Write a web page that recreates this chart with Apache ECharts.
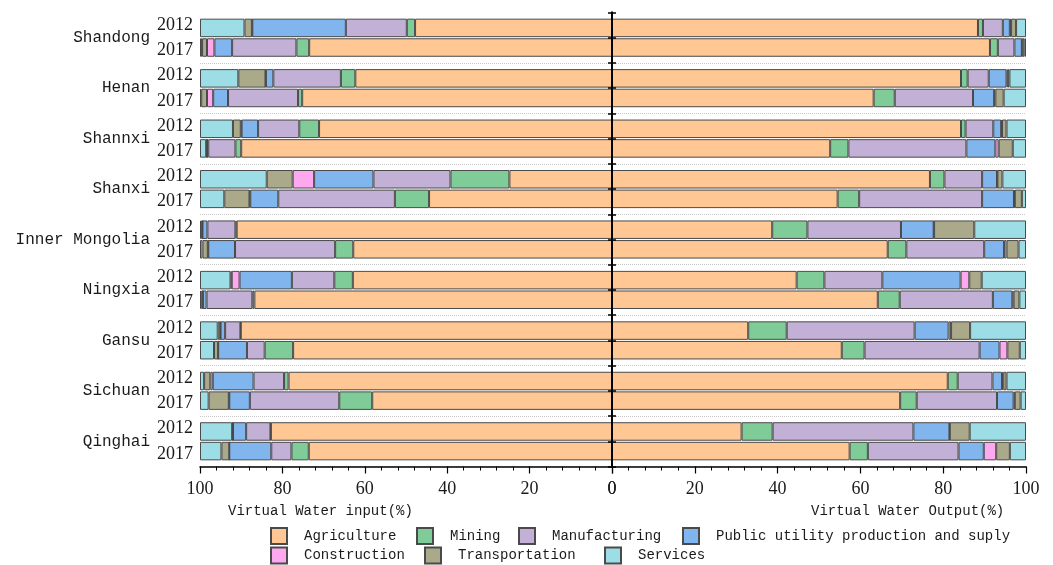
<!DOCTYPE html>
<html>
<head>
<meta charset="utf-8">
<script src="https://cdn.jsdelivr.net/npm/echarts@6/dist/echarts.min.js"></script>
<style>
  html, body { margin: 0; padding: 0; background: #ffffff; }
  #chart { width: 1053px; height: 565px; }
</style>
</head>
<body>
<div id="chart"></div>
<script>
// Provinces, top to bottom
const regions = ['Shandong', 'Henan', 'Shannxi', 'Shanxi', 'Inner Mongolia', 'Ningxia', 'Gansu', 'Sichuan', 'Qinghai'];
const years = ['2012', '2017'];
const sectors = ['Agriculture', 'Mining', 'Manufacturing', 'Public utility production and suply',
  'Construction', 'Transportation', 'Services'];
const sectorColors = ['#fec794', '#80cc98', '#c2b0d6', '#80b5ee', '#fea8f0', '#aaaa8a', '#9cdde6'];
const inputAxisName = 'Virtual Water input(%)';
const outputAxisName = 'Virtual Water Output(%)';

// Sector shares (%) of virtual water input, one row per province, columns in sector order
const input2012 = [
  [47.8, 2.0, 14.8, 22.7, 0.1, 1.8, 10.8],
  [62.3, 3.5, 16.4, 1.8, 0.1, 6.6, 9.3],
  [71.1, 4.8, 10.0, 4.0, 0.2, 1.9, 8.0],
  [24.9, 14.3, 18.7, 14.4, 5.2, 6.3, 16.2],
  [91.1, 0.3, 6.8, 1.2, 0.0, 0.3, 0.3],
  [62.9, 4.5, 10.3, 12.7, 1.9, 0.3, 7.4],
  [90.1, 0.1, 3.7, 1.1, 0.1, 0.6, 4.3],
  [78.5, 1.1, 7.4, 9.9, 0.6, 1.5, 1.0],
  [82.8, 0.1, 5.9, 3.2, 0.0, 0.2, 7.8]
];
const input2017 = [
  [73.5, 3.1, 15.6, 4.3, 1.8, 1.2, 0.5],
  [75.2, 1.0, 17.0, 3.6, 1.5, 1.4, 0.3],
  [90.0, 1.4, 6.6, 0.3, 0.0, 0.2, 1.5],
  [44.4, 8.3, 28.3, 6.8, 0.2, 6.1, 5.9],
  [62.8, 4.4, 24.3, 6.5, 0.1, 1.3, 0.6],
  [86.8, 0.5, 11.1, 0.9, 0.0, 0.4, 0.3],
  [77.4, 6.9, 4.3, 7.0, 0.0, 1.0, 3.4],
  [58.2, 8.0, 21.7, 5.0, 0.1, 4.9, 2.1],
  [73.6, 4.2, 4.9, 10.2, 0.0, 1.9, 5.2]
];
// Sector shares (%) of virtual water output
const output2012 = [
  [88.4, 1.2, 4.8, 1.7, 0.3, 1.2, 2.4],
  [84.3, 1.6, 5.1, 4.3, 0.3, 0.4, 4.0],
  [84.3, 1.1, 6.7, 1.9, 0.2, 1.1, 4.7],
  [76.8, 3.5, 9.1, 3.6, 0.1, 1.2, 5.7],
  [38.7, 8.5, 22.6, 7.9, 0.1, 9.7, 12.5],
  [44.6, 6.7, 14.0, 18.9, 2.1, 3.0, 10.7],
  [32.9, 9.3, 30.9, 8.2, 0.6, 4.6, 13.5],
  [81.1, 2.4, 8.4, 2.3, 0.3, 0.8, 4.7],
  [31.3, 7.5, 34.0, 8.7, 0.1, 4.8, 13.6]
];
const output2017 = [
  [91.3, 1.9, 4.0, 1.8, 0.1, 0.5, 0.4],
  [63.2, 5.1, 18.9, 5.1, 0.3, 2.0, 5.4],
  [52.7, 4.4, 28.5, 7.0, 0.8, 3.4, 3.2],
  [54.5, 5.2, 29.7, 7.7, 0.2, 1.7, 1.0],
  [66.6, 4.5, 18.8, 4.8, 0.6, 2.9, 1.8],
  [64.2, 5.3, 22.5, 4.7, 0.3, 1.4, 1.6],
  [55.5, 5.5, 27.8, 4.8, 1.9, 3.0, 1.5],
  [69.6, 4.0, 19.4, 4.0, 0.3, 1.4, 1.3],
  [57.4, 4.4, 21.9, 6.1, 3.0, 3.3, 3.9]
];

const MONO = '"Liberation Mono", "DejaVu Sans Mono", monospace';
const SERIF = '"Liberation Serif", "DejaVu Serif", serif';
const INK = '#1a1a1a';

// one label slot per bar row (2012 / 2017 for each province)
const yearRows = regions.flatMap(() => years);

function buildSeries(matrix, year, side) {
  const left = side === 'in';
  return sectors.map((name, s) => ({
    type: 'bar',
    name: name,
    stack: side + year,
    xAxisIndex: left ? 0 : 1,
    yAxisIndex: left ? 0 : 3,
    barWidth: 18.5,
    barGap: '6%',
    silent: true,
    itemStyle: { color: sectorColors[s], borderColor: '#4a4a4a', borderWidth: 1 },
    data: matrix.map(row => row[s])
  }));
}

const valueAxis = (gridIndex, inverse) => ({
  type: 'value', gridIndex, min: 0, max: 100, interval: 20, inverse,
  axisLine: { show: true, lineStyle: { color: '#000', width: 1.5 } },
  axisTick: { show: true, length: 7, lineStyle: { color: '#000', width: 1.2 } },
  minorTick: { show: true, splitNumber: 5, length: 4, lineStyle: { color: '#000', width: 1 } },
  splitLine: { show: false },
  axisLabel: { fontFamily: SERIF, fontSize: 18, color: INK, margin: 14 }
});

// dotted separators between provinces (the outer frame edges are skipped)
const regionSplit = {
  show: true,
  interval: (index) => index > 0,
  lineStyle: { type: 'dotted', color: '#c9c9c9', width: 1 }
};

const legendSlots = [
  { name: 'Agriculture', left: 270, top: 527 },
  { name: 'Mining', left: 416, top: 527 },
  { name: 'Manufacturing', left: 518, top: 527 },
  { name: 'Public utility production and suply', left: 682, top: 527 },
  { name: 'Construction', left: 270, top: 546.5 },
  { name: 'Transportation', left: 424, top: 546.5 },
  { name: 'Services', left: 604, top: 546.5 }
];

const spineAxis = (gridIndex, position) => ({
  type: 'category', gridIndex, data: yearRows, inverse: true, position, z: 10,
  axisLine: { show: true, lineStyle: { color: '#000', width: 2 } },
  axisTick: { show: true, interval: 0, length: 4, lineStyle: { color: '#000', width: 1.5 } },
  axisLabel: { show: false }
});

const option = {
  animation: false,
  backgroundColor: '#ffffff',
  title: [
    { text: inputAxisName, left: 228, top: 504, padding: 0,
      textStyle: { fontFamily: MONO, fontSize: 14, fontWeight: 'normal', color: INK } },
    { text: outputAxisName, left: 811, top: 504, padding: 0,
      textStyle: { fontFamily: MONO, fontSize: 14, fontWeight: 'normal', color: INK } }
  ],
  legend: legendSlots.map(slot => ({
    data: [slot.name], left: slot.left, top: slot.top, padding: 0,
    itemWidth: 16, itemHeight: 16, icon: 'rect', selectedMode: false,
    textStyle: { fontFamily: MONO, fontSize: 14, color: INK, padding: [0, 0, 0, 12] }
  })),
  grid: [
    { left: 200, right: 441, top: 12.5, bottom: 98.5 },
    { left: 612, right: 27, top: 12.5, bottom: 98.5 }
  ],
  xAxis: [valueAxis(0, true), valueAxis(1, false)],
  yAxis: [
    // province names
    { type: 'category', gridIndex: 0, data: regions, inverse: true, position: 'left',
      axisLine: { show: false }, axisTick: { show: false },
      axisLabel: { fontFamily: MONO, fontSize: 16, color: INK, margin: 50 },
      splitLine: regionSplit },
    // year of each bar row
    { type: 'category', gridIndex: 0, data: yearRows, inverse: true, position: 'left',
      axisLine: { show: false }, axisTick: { show: false },
      axisLabel: { fontFamily: SERIF, fontSize: 18, color: INK, margin: 7, interval: 0 } },
    // centre spine, ticks reaching right
    spineAxis(0, 'right'),
    // output panel rows
    { type: 'category', gridIndex: 1, data: regions, inverse: true, position: 'left',
      axisLine: { show: false }, axisTick: { show: false }, axisLabel: { show: false },
      splitLine: regionSplit },
    // centre spine, ticks reaching left
    spineAxis(1, 'left')
  ],
  series: [
    ...buildSeries(input2012, '2012', 'in'),
    ...buildSeries(input2017, '2017', 'in'),
    ...buildSeries(output2012, '2012', 'out'),
    ...buildSeries(output2017, '2017', 'out')
  ]
};

const chart = echarts.init(document.getElementById('chart'), null, { renderer: 'canvas' });
chart.setOption(option);
</script>
</body>
</html>
